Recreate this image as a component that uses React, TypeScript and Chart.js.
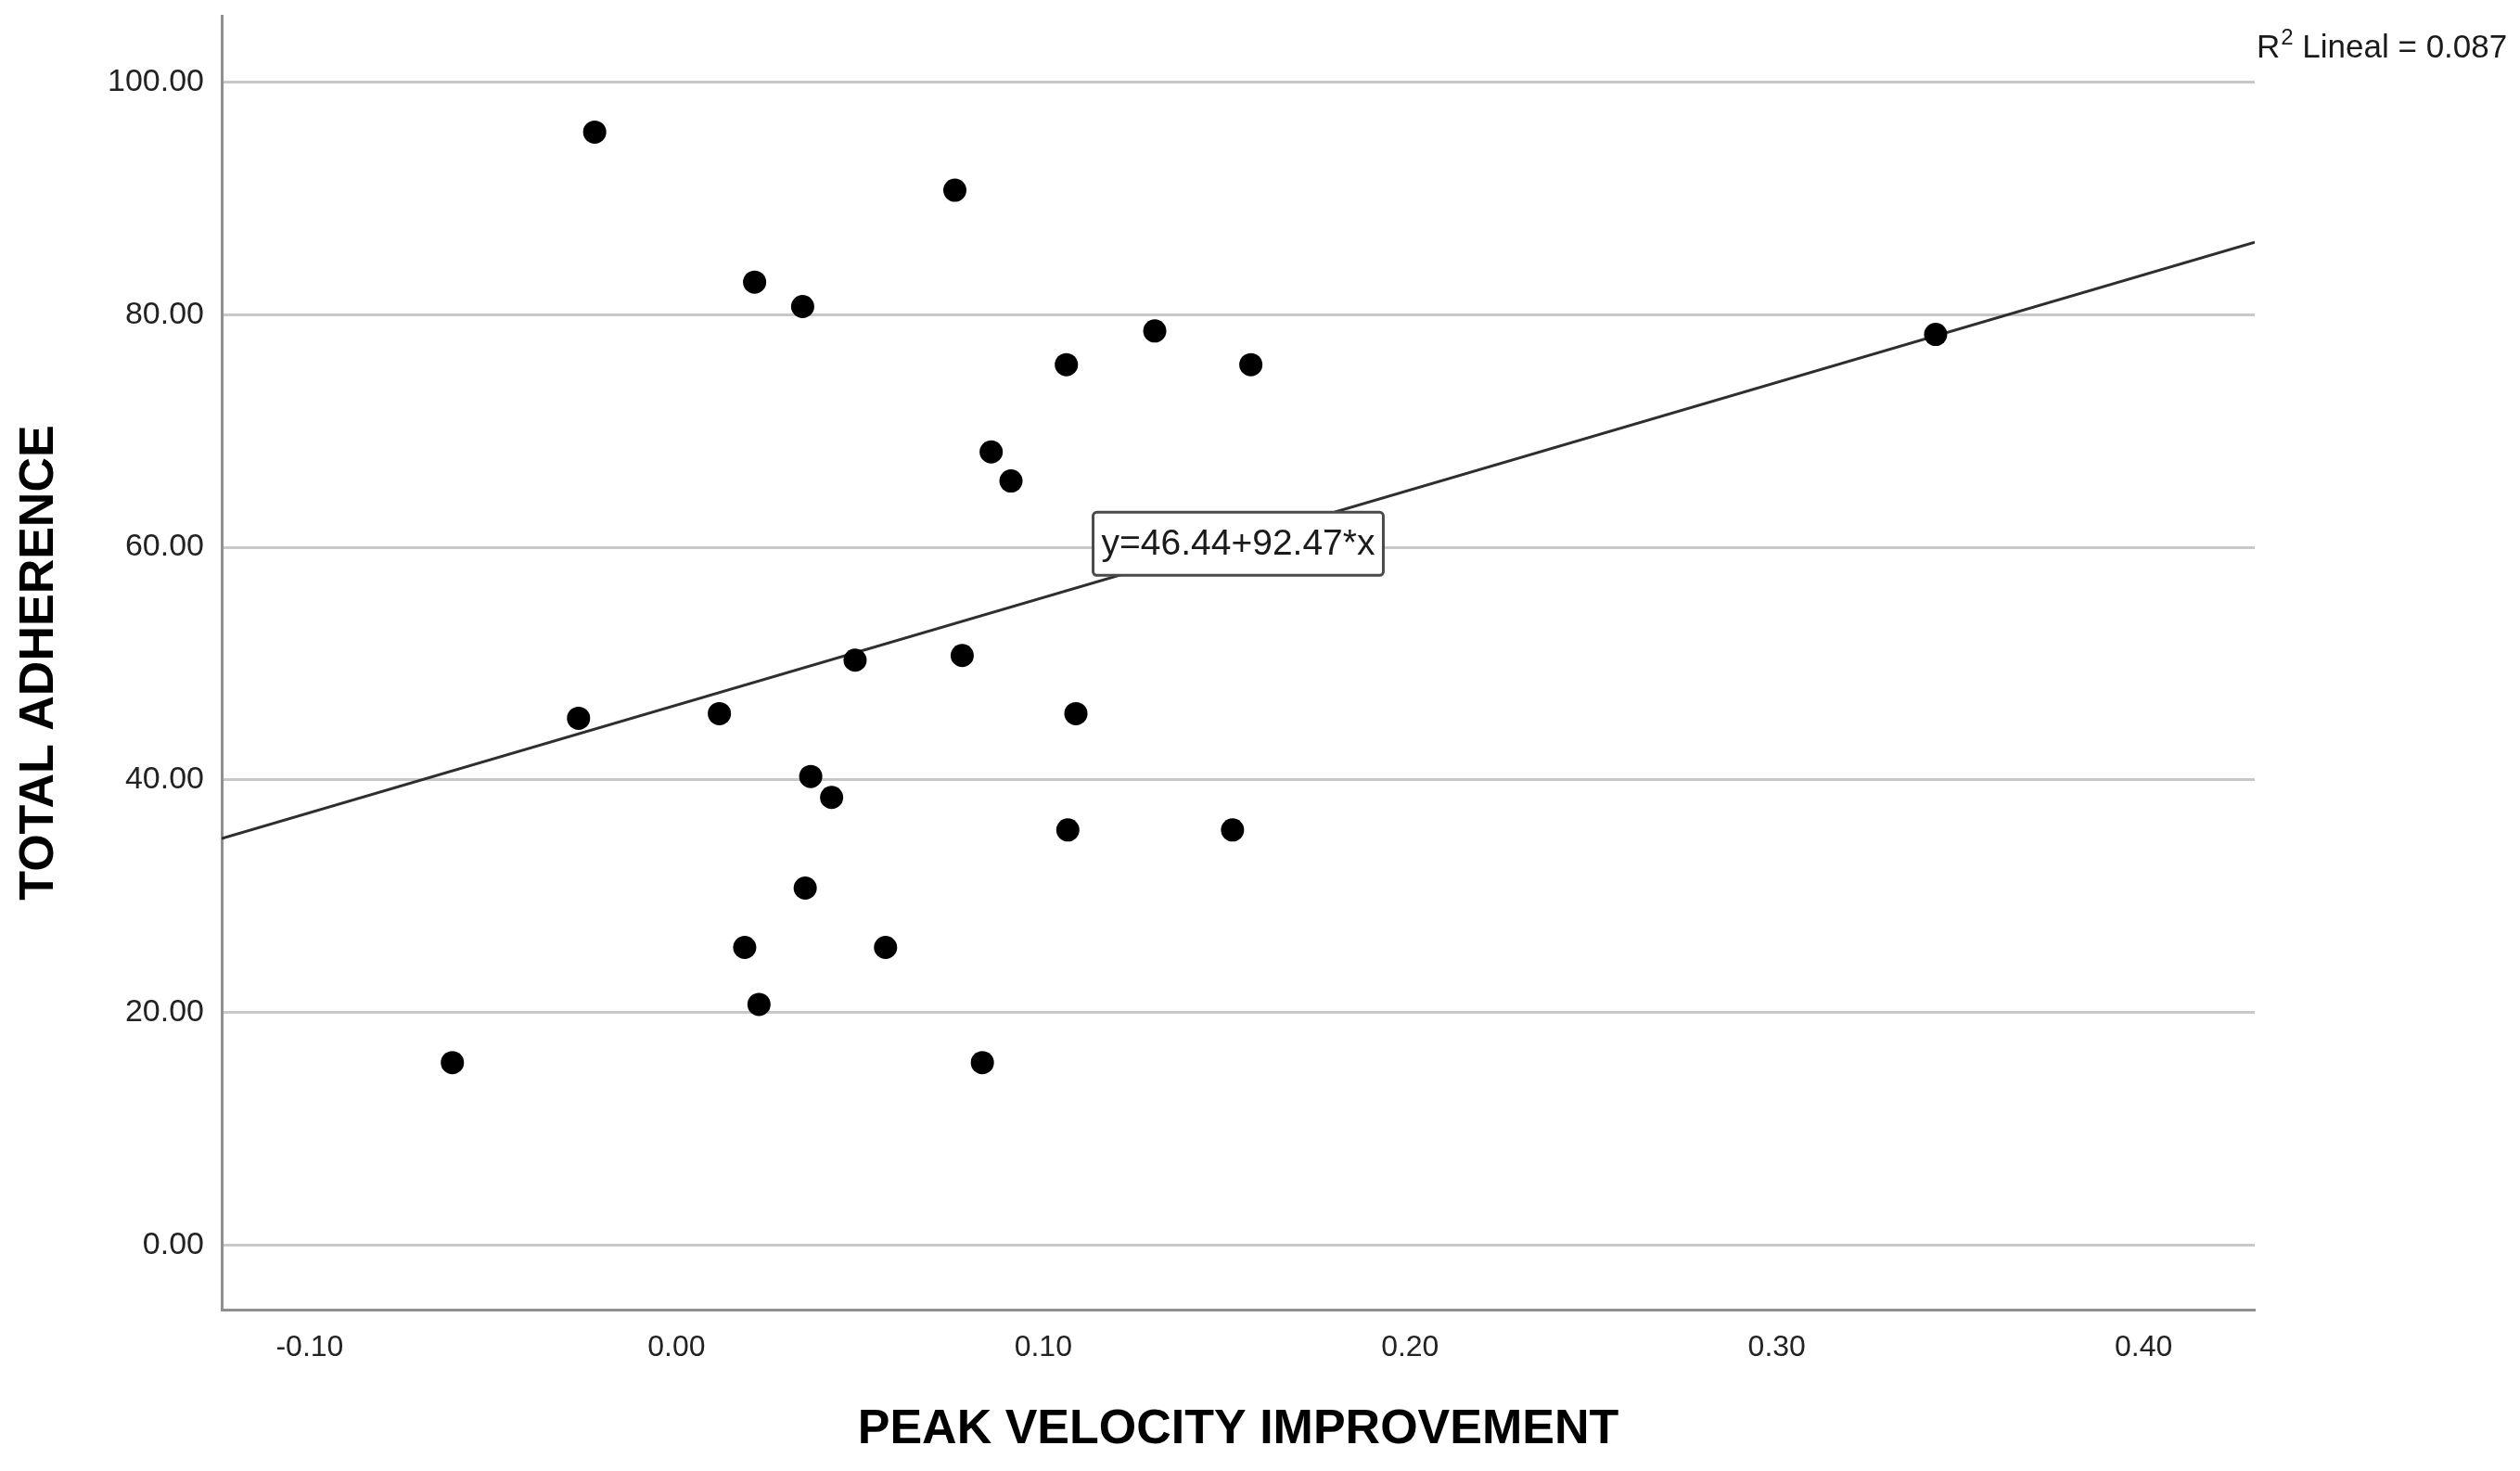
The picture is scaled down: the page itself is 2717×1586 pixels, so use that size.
import React, { useEffect, useRef } from 'react';
import { Chart, registerables } from 'chart.js';

Chart.register(...registerables);

// ---- data ----
const peakVelocityImprovement = [
  -0.0223, 0.0759, 0.0213, 0.0344, 0.1304, 0.1063, 0.1566, 0.0858, 0.0912,
  -0.0267, 0.0117, 0.0487, 0.0779, 0.1089, 0.0366, 0.0423, 0.1067, 0.1516,
  0.0351, 0.0186, 0.0570, 0.0225, -0.0611, 0.0834, 0.3433,
];
const totalAdherence = [
  95.7, 90.7, 82.8, 80.7, 78.6, 75.7, 75.7, 68.2, 65.7,
  45.3, 45.7, 50.3, 50.7, 45.7, 40.3, 38.5, 35.7, 35.7,
  30.7, 25.6, 25.6, 20.7, 15.7, 15.7, 78.3,
];
const regressionIntercept = 46.44;
const regressionSlope = 92.47;
const rSquaredLinear = '0.087';
const xAxisRange = [-0.124, 0.4303];
const yAxisRange = [-5.54, 105.7];
const xTickStep = 0.1;
const yTickStep = 20;
const xAxisTitle = 'PEAK VELOCITY IMPROVEMENT';
const yAxisTitle = 'TOTAL ADHERENCE';
const equationLabelValue = 60.3;

const FONT = "'Liberation Sans', Arial, sans-serif";

const equationText = `y=${regressionIntercept.toFixed(2)}+${regressionSlope.toFixed(2)}*x`;

const spssAnnotations = {
  id: 'spssAnnotations',
  afterDatasetsDraw(chart: any) {
    const { ctx, chartArea, scales } = chart;
    ctx.save();
    ctx.font = `39px ${FONT}`;
    const tw = ctx.measureText(equationText).width;
    const w = tw + 18;
    const h = 68;
    const cx = (chartArea.left + chartArea.right) / 2;
    const cy = scales.y.getPixelForValue(equationLabelValue);
    ctx.beginPath();
    if (ctx.roundRect) ctx.roundRect(cx - w / 2, cy - h / 2, w, h, 4);
    else ctx.rect(cx - w / 2, cy - h / 2, w, h);
    ctx.fillStyle = '#ffffff';
    ctx.fill();
    ctx.lineWidth = 3;
    ctx.strokeStyle = '#4a4a4a';
    ctx.stroke();
    ctx.fillStyle = '#1a1a1a';
    ctx.textAlign = 'center';
    ctx.textBaseline = 'middle';
    ctx.fillText(equationText, cx, cy + 1);
    ctx.restore();
  },
  afterDraw(chart: any) {
    const { ctx, chartArea } = chart;
    ctx.save();
    ctx.fillStyle = '#1a1a1a';
    ctx.textBaseline = 'alphabetic';
    ctx.textAlign = 'left';
    let x = chartArea.right + 2;
    const base = chartArea.top + 45;
    ctx.font = `35px ${FONT}`;
    ctx.fillText('R', x, base);
    x += ctx.measureText('R').width + 1;
    ctx.font = `24px ${FONT}`;
    ctx.fillText('2', x, base - 14);
    x += ctx.measureText('2').width;
    ctx.font = `35px ${FONT}`;
    ctx.fillText(` Lineal = ${rSquaredLinear}`, x, base);
    ctx.restore();
  },
};

const noEdgePadding = (scale: any) => {
  scale.paddingTop = 0;
  scale.paddingBottom = 0;
  scale.paddingLeft = 0;
  scale.paddingRight = 0;
};

export default function App() {
  const canvasRef = useRef<HTMLCanvasElement | null>(null);

  useEffect(() => {
    const canvas = canvasRef.current;
    if (!canvas) return;
    const points = peakVelocityImprovement.map((x, i) => ({ x, y: totalAdherence[i] }));
    const lineData = xAxisRange.map((x) => ({ x, y: regressionIntercept + regressionSlope * x }));

    const chart = new Chart(canvas, {
      type: 'scatter',
      data: {
        datasets: [
          {
            label: 'Observed',
            data: points,
            backgroundColor: '#000000',
            borderColor: '#000000',
            pointRadius: 12.5,
            pointHoverRadius: 12.5,
            borderWidth: 0,
            order: 0,
          },
          {
            type: 'line',
            label: 'Linear fit',
            data: lineData,
            borderColor: '#2e2e2e',
            borderWidth: 3,
            pointRadius: 0,
            fill: false,
            tension: 0,
            order: 1,
          } as any,
        ],
      },
      plugins: [spssAnnotations],
      options: {
        responsive: false,
        animation: false,
        devicePixelRatio: 1,
        layout: { padding: { left: 0, top: 17, right: 286, bottom: 0 } },
        plugins: {
          legend: { display: false },
          tooltip: { enabled: false },
        },
        scales: {
          x: {
            type: 'linear',
            min: xAxisRange[0],
            max: xAxisRange[1],
            afterFit: (scale: any) => {
              scale.height = 174;
              noEdgePadding(scale);
            },
            grid: { display: false, drawTicks: false },
            border: { display: true, color: '#8f8f8f', width: 3 },
            ticks: {
              stepSize: xTickStep,
              includeBounds: false,
              padding: 22,
              color: '#222222',
              font: { family: FONT, size: 32 },
              callback: (v: any) => Number(v).toFixed(2),
            },
            title: {
              display: true,
              text: xAxisTitle,
              color: '#000000',
              font: { family: FONT, size: 52, weight: 'bold', lineHeight: 1 },
              padding: { top: 0, bottom: 18 },
            },
          },
          y: {
            type: 'linear',
            min: yAxisRange[0],
            max: yAxisRange[1],
            afterFit: (scale: any) => {
              scale.width = 239;
              noEdgePadding(scale);
            },
            grid: { display: true, color: '#c8c8c8', lineWidth: 3, drawTicks: false },
            border: { display: true, color: '#8f8f8f', width: 3 },
            ticks: {
              stepSize: yTickStep,
              includeBounds: false,
              padding: 19,
              color: '#222222',
              font: { family: FONT, size: 34 },
              callback: (v: any) => Number(v).toFixed(2),
            },
            title: {
              display: true,
              text: yAxisTitle,
              color: '#000000',
              font: { family: FONT, size: 52, weight: 'bold', lineHeight: 1 },
              padding: { top: 17, bottom: 0 },
            },
          },
        },
      } as any,
    });
    return () => chart.destroy();
  }, []);

  return (
    <div style={{ position: 'fixed', left: 0, top: 0, width: 2717, height: 1586, background: '#ffffff' }}>
      <canvas ref={canvasRef} width={2717} height={1586} style={{ display: 'block', width: 2717, height: 1586 }} />
    </div>
  );
}
